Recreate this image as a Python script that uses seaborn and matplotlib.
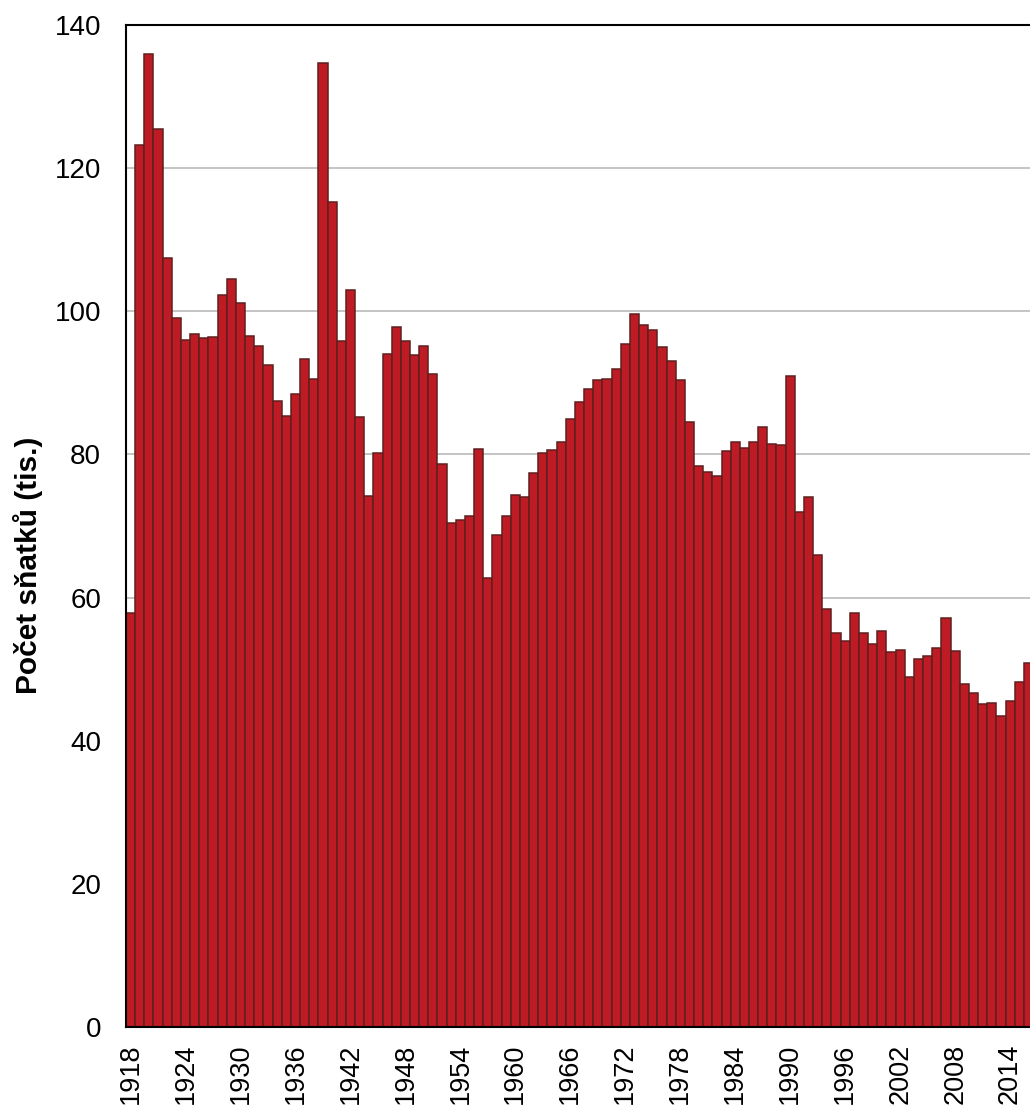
import numpy as np
import pandas as pd
import seaborn as sns
import matplotlib.pyplot as plt

# years 1918-2016, marriages in thousands
years = list(range(1918, 2017))
marriages = [
    57.9, 123.2, 135.9, 125.5, 107.5, 99.0, 96.0, 96.8, 96.3, 96.4,
    102.3, 104.5, 101.2, 96.5, 95.2, 92.5, 87.4, 85.4, 88.5, 93.3,
    90.5, 134.7, 115.3, 95.8, 103.0, 85.2, 74.2, 80.2, 94.0, 97.8,
    95.9, 93.9, 95.2, 91.3, 78.6, 70.4, 70.8, 71.4, 80.7, 62.8,
    68.7, 71.4, 74.3, 74.1, 77.4, 80.2, 80.6, 81.8, 84.9, 87.3,
    89.2, 90.4, 90.6, 92.0, 95.4, 99.6, 98.1, 97.4, 95.0, 93.0,
    90.4, 84.5, 78.4, 77.5, 77.0, 80.5, 81.8, 80.9, 81.7, 83.8,
    81.5, 81.3, 90.9, 71.9, 74.1, 66.0, 58.4, 55.0, 53.9, 57.8,
    55.0, 53.5, 55.3, 52.4, 52.7, 48.9, 51.4, 51.8, 52.9, 57.2,
    52.5, 47.9, 46.7, 45.1, 45.2, 43.5, 45.6, 48.2, 50.8,
]
y_ticks = [0, 20, 40, 60, 80, 100, 120, 140]
x_tick_years = list(range(1918, 2017, 6))

df = pd.DataFrame({"rok": [str(y) for y in years], "pocet": marriages})

sns.set_style("white")
plt.rcParams["font.family"] = ["Liberation Sans", "DejaVu Sans"]
plt.rcParams["text.color"] = "black"
plt.rcParams["xtick.color"] = "black"
plt.rcParams["ytick.color"] = "black"
plt.rcParams["axes.labelcolor"] = "black"

fig = plt.figure(figsize=(10.3, 11.08), dpi=100)
ax = fig.add_axes([126 / 1030, 81 / 1108, 907 / 1030, 1002 / 1108])

sns.barplot(data=df, x="rok", y="pocet", color="#BE1B24", saturation=1,
            width=1.0, edgecolor="#5E1F20", linewidth=1.1, ax=ax, zorder=2)

ax.set_ylim(0, 140)
ax.set_xlim(-0.5, len(years) - 0.5)
ax.set_yticks(y_ticks)
ax.set_yticklabels([str(v) for v in y_ticks], fontsize=20)
ax.yaxis.grid(True, color="#BFBFBF", linewidth=1.3, zorder=0)
ax.set_axisbelow(True)

pos = [years.index(y) for y in x_tick_years]
ax.set_xticks(pos)
ax.set_xticklabels([str(y) for y in x_tick_years], rotation=90, fontsize=19.5)
ax.tick_params(axis="x", length=0, pad=12)
ax.tick_params(axis="y", length=0, pad=18)

ax.set_xlabel("")
ax.set_ylabel("Počet sňatků (tis.)", fontsize=21.5, fontweight="bold")
ax.yaxis.set_label_coords(-0.0915, 0.461)

for side in ["left", "top", "bottom"]:
    ax.spines[side].set_visible(True)
    ax.spines[side].set_color("black")
    ax.spines[side].set_linewidth(1.5)
ax.spines["right"].set_visible(False)

fig.savefig("out.png", dpi=100)
